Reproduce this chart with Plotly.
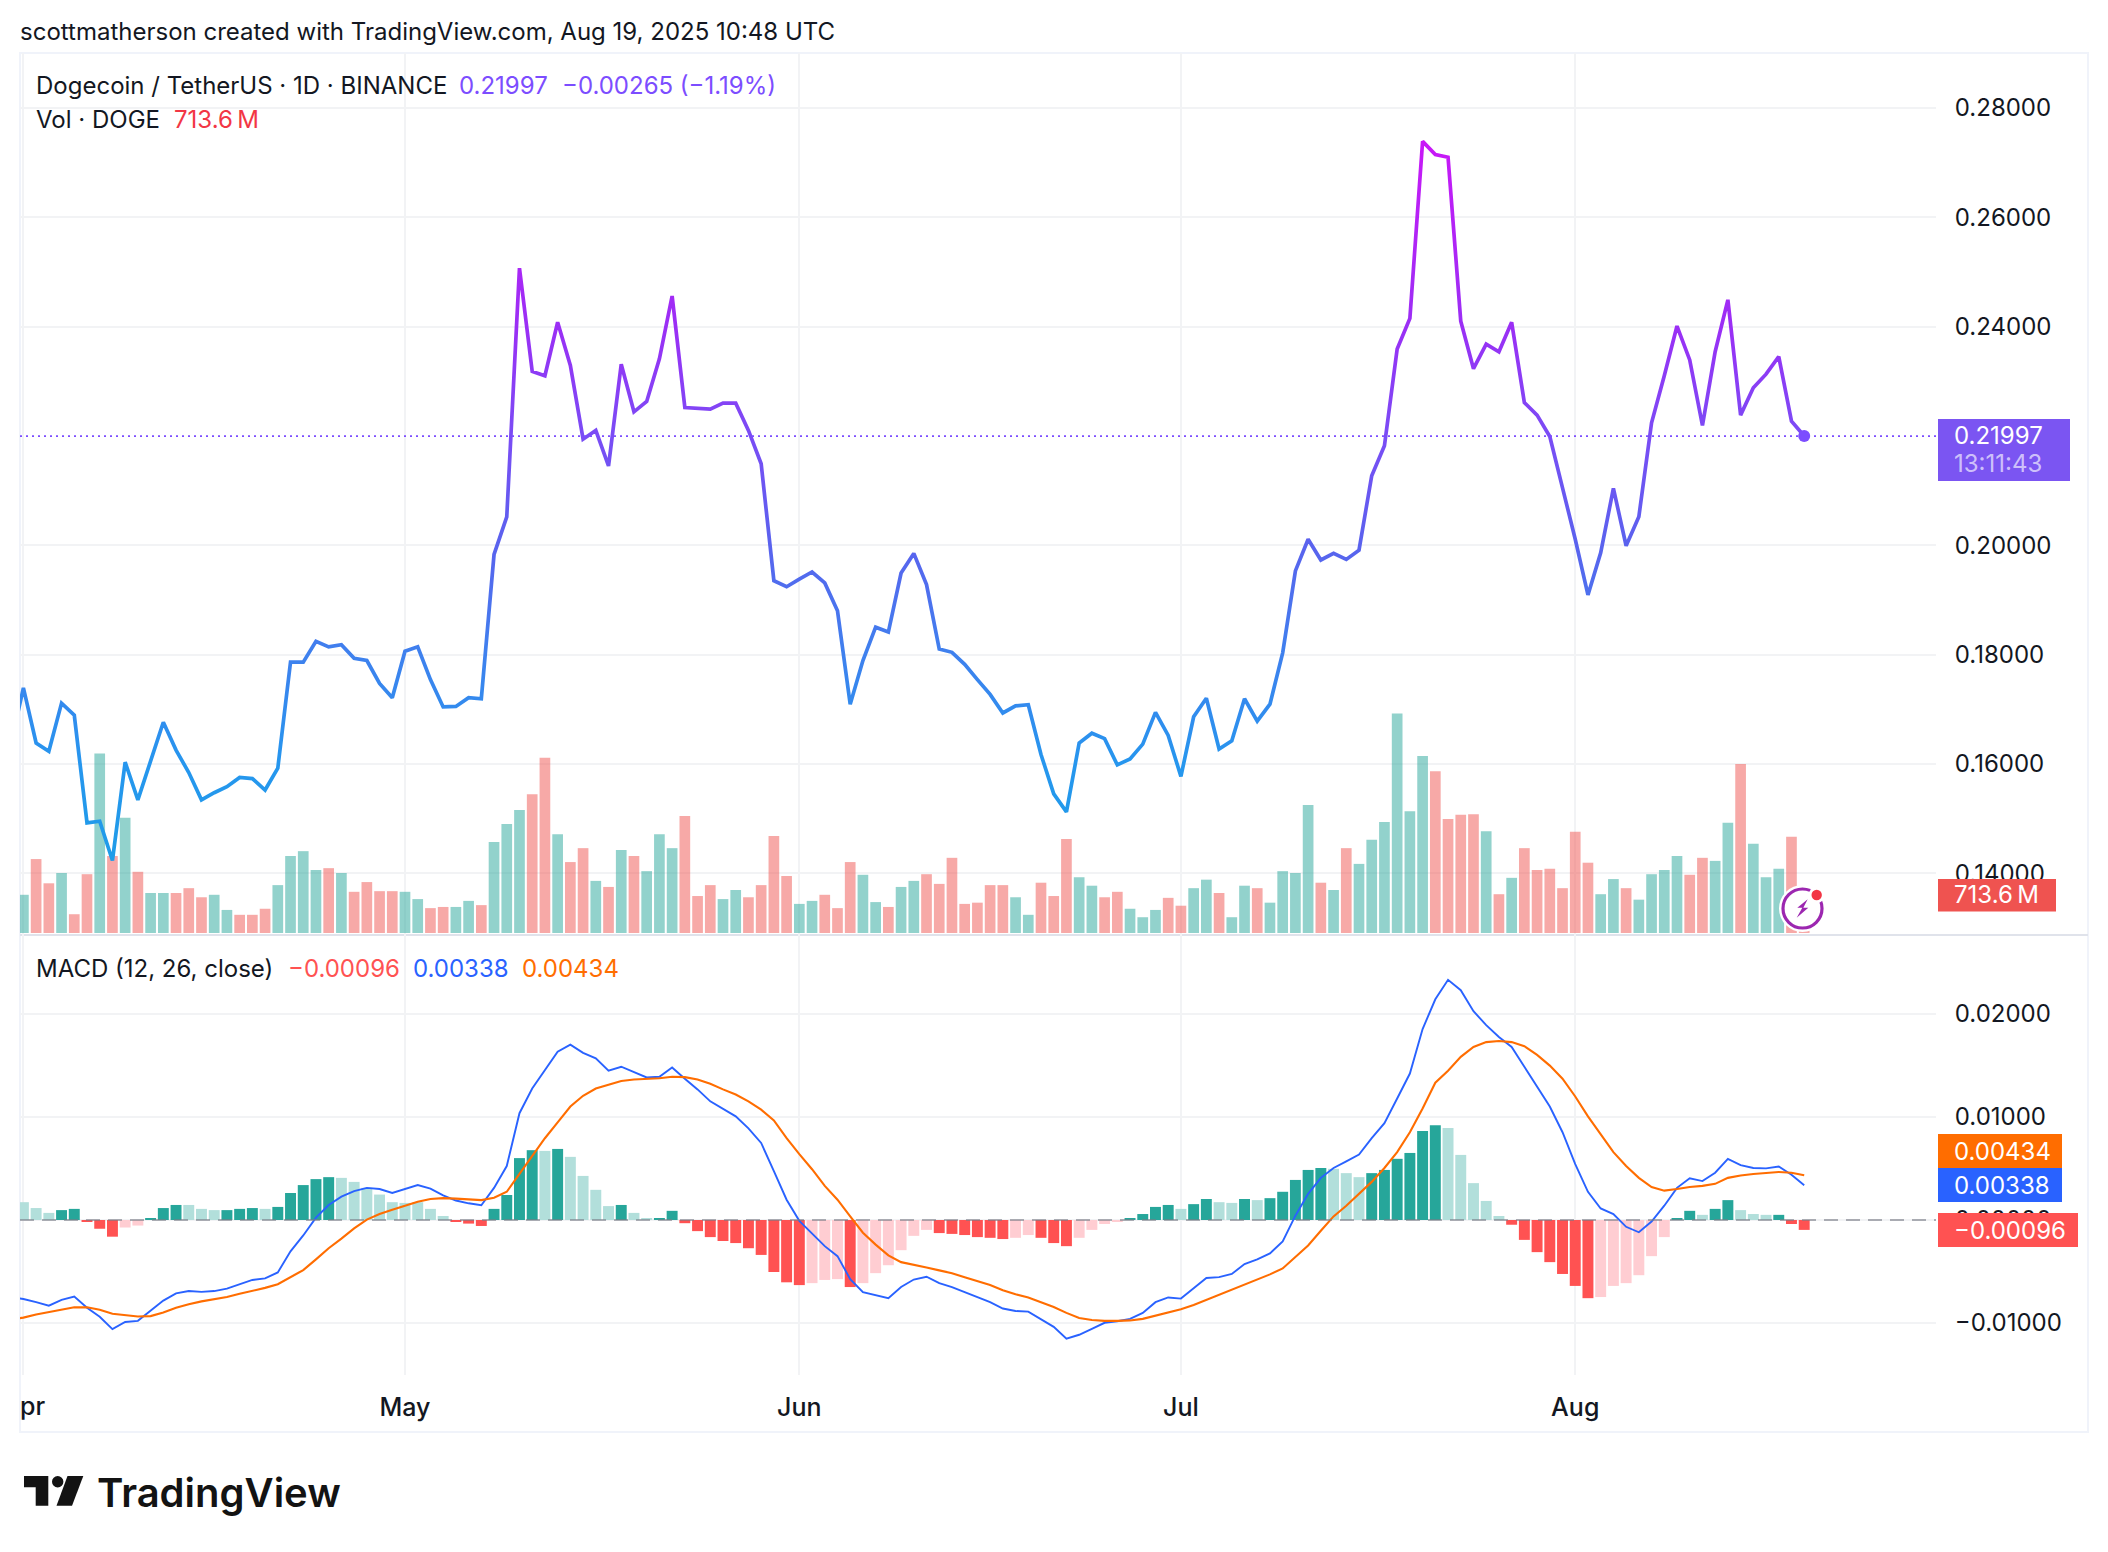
import pandas as pd
import plotly.graph_objects as go

W, H = 2108, 1552
START = "2025-03-31"

close = [0.1634,
 0.1739,0.1638,0.1623,0.1711,0.1689,0.1492,0.1495,0.1423,0.1603,0.1534,
 0.1603,0.1676,0.1625,0.1584,0.1534,0.1547,0.1558,0.1575,0.1573,0.1552,
 0.1592,0.1786,0.1786,0.1824,0.1814,0.1818,0.1793,0.1789,0.1747,0.1721,
 0.1806,0.1814,0.1754,0.1704,0.1705,0.1721,0.1719,0.1983,0.2052,0.2507,
 0.2318,0.2310,0.2408,0.2329,0.2194,0.2210,0.2145,0.2331,0.2244,0.2263,
 0.2341,0.2456,0.2252,0.2251,0.2249,0.2260,0.2260,0.2210,0.2149,0.1935,
 0.1924,0.1938,0.1951,0.1931,0.1880,0.1709,0.1789,0.1850,0.1841,0.1949,
 0.1985,0.1928,0.1810,0.1804,0.1782,0.1754,0.1727,0.1693,0.1706,0.1708,
 0.1617,0.1545,0.1512,0.1638,0.1656,0.1646,0.1598,0.1609,0.1636,0.1694,
 0.1652,0.1577,0.1686,0.1720,0.1627,0.1642,0.1719,0.1678,0.1709,0.1803,
 0.1953,0.2011,0.1973,0.1985,0.1974,0.1991,0.2127,0.2182,0.2359,0.2415,
 0.2739,0.2715,0.2710,0.2410,0.2323,0.2368,0.2354,0.2408,0.2261,0.2238,
 0.2199,0.2105,0.2011,0.1909,0.1986,0.2104,0.1999,0.2052,0.2224,0.2310,
 0.2401,0.2339,0.2219,0.2354,0.2449,0.2238,0.2288,0.2313,0.2345,0.2227,
 0.21997]

volume_m = [900,
 714,1382,929,1122,351,1099,3354,1439,2153,1144,
 748,748,748,838,668,714,431,340,340,453,
 895,1439,1530,1178,1212,1122,770,952,782,782,
 770,634,465,487,487,600,521,1700,2039,2300,
 2595,3274,1847,1326,1586,974,861,1552,1439,1156,
 1847,1586,2187,691,895,634,804,668,895,1813,
 1065,544,600,714,465,1326,1088,578,487,861,
 974,1099,918,1405,544,567,895,895,668,340,
 940,691,1756,1042,884,668,770,453,295,431,
 657,510,838,997,748,295,884,838,567,1156,
 1122,2391,940,804,1586,1292,1745,2073,4101,2277,
 3308,3025,2130,2209,2221,1903,725,1031,1586,1178,
 1201,838,1892,1314,725,1008,838,623,1099,1178,
 1439,1088,1405,1348,2062,3161,1666,1042,1201,1801,
 713.6]
volume_dir = ("r" "grrgrrgrgr" "ggrrrggrrr" "ggggrgrrrr" "ggrrggrggg" "rrgrrgrgrg"
              "ggrrrggrrr" "rggrrrggrg" "grrrrrrrgg" "rrrggrrggg" "rrggrggrgg"
              "ggrgrggggg" "grrrrgrgrr" "rrrrggrggg" "grrggrgggr" "r")

macd = [-0.00748,
 -0.00767,-0.00798,-0.00832,-0.00775,-0.00744,-0.00852,-0.00940,-0.01060,-0.00990,-0.00979,
 -0.00883,-0.00782,-0.00713,-0.00690,-0.00698,-0.00690,-0.00667,-0.00628,-0.00582,-0.00567,
 -0.00509,-0.00304,-0.00150,0.00023,0.00146,0.00227,0.00281,0.00312,0.00301,0.00262,
 0.00301,0.00339,0.00304,0.00239,0.00189,0.00162,0.00143,0.00312,0.00524,0.01037,
 0.01276,0.01449,0.01634,0.01703,0.01623,0.01569,0.01449,0.01488,0.01438,0.01384,
 0.01391,0.01480,0.01372,0.01268,0.01152,0.01075,0.01006,0.00890,0.00748,0.00474,
 0.00197,-0.00008,-0.00131,-0.00254,-0.00351,-0.00574,-0.00701,-0.00732,-0.00759,-0.00651,
 -0.00578,-0.00551,-0.00613,-0.00651,-0.00701,-0.00755,-0.00798,-0.00859,-0.00883,-0.00890,
 -0.00967,-0.01037,-0.01152,-0.01114,-0.01056,-0.00998,-0.00983,-0.00960,-0.00902,-0.00798,
 -0.00752,-0.00763,-0.00663,-0.00563,-0.00555,-0.00524,-0.00428,-0.00382,-0.00324,-0.00208,
 0.00042,0.00254,0.00409,0.00505,0.00570,0.00636,0.00794,0.00940,0.01179,0.01422,
 0.01854,0.02143,0.02332,0.02231,0.02027,0.01892,0.01777,0.01680,0.01488,0.01295,
 0.01102,0.00852,0.00543,0.00274,0.00112,0.00058,-0.00066,-0.00119,-0.00015,0.00139,
 0.00312,0.00405,0.00378,0.00459,0.00594,0.00532,0.00505,0.00501,0.00520,0.00439,
 0.00338]

signal = [-0.00967,
 -0.00948,-0.00917,-0.00894,-0.00867,-0.00848,-0.00848,-0.00871,-0.00910,-0.00925,-0.00937,
 -0.00933,-0.00898,-0.00852,-0.00817,-0.00790,-0.00767,-0.00748,-0.00717,-0.00690,-0.00659,
 -0.00624,-0.00555,-0.00486,-0.00382,-0.00274,-0.00181,-0.00081,0.00004,0.00058,0.00100,
 0.00139,0.00177,0.00204,0.00212,0.00208,0.00204,0.00193,0.00216,0.00274,0.00447,
 0.00620,0.00794,0.00948,0.01102,0.01206,0.01276,0.01314,0.01349,0.01364,0.01368,
 0.01376,0.01391,0.01387,0.01364,0.01322,0.01268,0.01218,0.01152,0.01071,0.00967,
 0.00794,0.00640,0.00493,0.00331,0.00197,0.00035,-0.00123,-0.00239,-0.00343,-0.00409,
 -0.00439,-0.00462,-0.00489,-0.00516,-0.00555,-0.00594,-0.00632,-0.00682,-0.00721,-0.00752,
 -0.00798,-0.00844,-0.00902,-0.00952,-0.00971,-0.00979,-0.00979,-0.00975,-0.00960,-0.00929,
 -0.00898,-0.00867,-0.00825,-0.00775,-0.00728,-0.00682,-0.00632,-0.00582,-0.00528,-0.00470,
 -0.00362,-0.00247,-0.00104,0.00035,0.00139,0.00254,0.00370,0.00505,0.00659,0.00852,
 0.01083,0.01333,0.01449,0.01584,0.01680,0.01727,0.01738,0.01727,0.01688,0.01603,
 0.01499,0.01372,0.01199,0.01006,0.00832,0.00659,0.00524,0.00409,0.00320,0.00285,
 0.00301,0.00320,0.00331,0.00351,0.00409,0.00432,0.00447,0.00459,0.00466,0.00459,
 0.00434]

histogram = [0.00219,
 0.00173,0.00116,0.00069,0.00096,0.00108,-0.00015,-0.00085,-0.00162,-0.00073,-0.00054,
 0.00019,0.00116,0.00146,0.00146,0.00108,0.00096,0.00096,0.00108,0.00116,0.00108,
 0.00127,0.00262,0.00339,0.00397,0.00416,0.00409,0.00370,0.00312,0.00247,0.00173,
 0.00166,0.00173,0.00108,0.00039,-0.00015,-0.00035,-0.00058,0.00108,0.00243,0.00601,
 0.00678,0.00671,0.00690,0.00613,0.00428,0.00293,0.00135,0.00146,0.00069,0.00019,
 0.00019,0.00089,-0.00031,-0.00108,-0.00166,-0.00204,-0.00224,-0.00274,-0.00339,-0.00505,
 -0.00605,-0.00632,-0.00613,-0.00582,-0.00574,-0.00651,-0.00613,-0.00516,-0.00439,-0.00293,
 -0.00154,-0.00096,-0.00127,-0.00135,-0.00146,-0.00166,-0.00173,-0.00185,-0.00173,-0.00146,
 -0.00173,-0.00224,-0.00254,-0.00173,-0.00096,-0.00039,-0.00019,0.00019,0.00058,0.00127,
 0.00146,0.00108,0.00154,0.00204,0.00173,0.00166,0.00204,0.00193,0.00212,0.00274,
 0.00389,0.00486,0.00505,0.00497,0.00455,0.00416,0.00455,0.00486,0.00594,0.00651,
 0.00863,0.00921,0.00894,0.00632,0.00358,0.00185,0.00039,-0.00046,-0.00193,-0.00312,
 -0.00409,-0.00524,-0.00640,-0.00759,-0.00748,-0.00640,-0.00613,-0.00536,-0.00351,-0.00166,
 0.00019,0.00089,0.00050,0.00108,0.00193,0.00096,0.00058,0.00050,0.00050,-0.00039,
 -0.00096]
histogram_state = ("D" "LLLDDRRRPP" "DDDLLLDDDL" "DDDDDLLLLL" "LLLLRRRDDD" "DLDLLLLDLL"
                   "DDRRRRRRRR" "RRPPPRPPPP" "PPRRRRRRPP" "RRRPPPPDDD" "DLDDLLDLDD"
                   "DDDLLLDDDD" "DDLLLLLRRR" "RRRRPPPPPP" "DDLDDLLLDR" "R")

price_ticks = [0.14, 0.16, 0.18, 0.20, 0.22, 0.24, 0.26, 0.28]
macd_ticks = [-0.01, 0.0, 0.01, 0.02]
month_ticks = ["2025-04-01", "2025-05-01", "2025-06-01", "2025-07-01", "2025-08-01"]
month_labels = ["", "May", "Jun", "Jul", "Aug"]

dates = pd.date_range(START, periods=len(close))

FONT = "Inter, 'Noto Sans', sans-serif"
INK = "#131722"
GRID = "#f2f3f5"
FRAME = "#f0f3fa"
PURPLE = "#7c4dff"
TXT = 24

def fx(px): return px / W
def fy(py): return 1 - py / H

def date_at(px):
    return pd.Timestamp("2025-04-01") + pd.Timedelta(days=(px - 23.4) / 12.72)

x_range = [date_at(20), date_at(1936)]
DAY_MS = 86400000

fig = go.Figure()

vol_colors = ["rgba(38,166,154,0.5)" if c == "g" else "rgba(239,83,80,0.5)" for c in volume_dir]
fig.add_trace(go.Bar(x=dates, y=volume_m, marker=dict(color=vol_colors, line_width=0),
                     width=0.84 * DAY_MS, xaxis="x", yaxis="y", name="Vol"))
fig.add_trace(go.Scatter(x=dates, y=close, mode="lines", line=dict(color=PURPLE, width=3.7, shape="linear"),
                         xaxis="x", yaxis="y2", name="Close"))
fig.add_trace(go.Scatter(x=[dates[-1]], y=[close[-1]], mode="markers",
                         marker=dict(color=PURPLE, size=12), xaxis="x", yaxis="y2", name="Last"))

state_colors = {"D": "#26a69a", "L": "#b2dfdb", "R": "#ff5252", "P": "#ffcdd2"}
fig.add_trace(go.Bar(x=dates, y=histogram, marker=dict(color=[state_colors[s] for s in histogram_state], line_width=0),
                     width=0.86 * DAY_MS, xaxis="x2", yaxis="y3", name="Histogram"))
fig.add_trace(go.Scatter(x=dates, y=macd, mode="lines", line=dict(color="#2962ff", width=1.9),
                         xaxis="x2", yaxis="y3", name="MACD"))
fig.add_trace(go.Scatter(x=dates, y=signal, mode="lines", line=dict(color="#ff6d00", width=2.1),
                         xaxis="x2", yaxis="y3", name="Signal"))

# axis scales derived from pixel positions of the panes
main_top, main_bottom = 53, 935
macd_top, macd_bottom = 935, 1375
p_per_px = 0.02 / 109.3
price_range = [0.28 - (main_bottom - 108) * p_per_px, 0.28 + (108 - main_top) * p_per_px]
m_per_px = 0.01 / 103.0
macd_range = [-(macd_bottom - 1220) * m_per_px, (1220 - macd_top) * m_per_px]
v_per_px = 1 / 0.0535
vol_range = [-(main_bottom - 933) * v_per_px, (933 - main_top) * v_per_px]

tick_font = dict(family=FONT, size=TXT, color=INK)
dom_x = [fx(20), fx(1936)]

shapes, annos = [], []

def rect(x0, y0, x1, y1, fill, line=None, lw=0, r=0):
    shapes.append(dict(type="rect", xref="paper", yref="paper", x0=fx(x0), x1=fx(x1), y0=fy(y1), y1=fy(y0),
                       fillcolor=fill, line=dict(color=line or fill, width=lw), layer="above"))

def text(x, y, s, size=TXT, color=INK, anchor="left", weight=None):
    f = dict(family=FONT, size=size, color=color)
    if weight:
        f["weight"] = weight
    annos.append(dict(xref="paper", yref="paper", x=fx(x), y=fy(y), text=s, showarrow=False,
                      xanchor=anchor, yanchor="middle", font=f, borderpad=0, borderwidth=0))

# frame and pane separator
shapes.append(dict(type="rect", xref="paper", yref="paper", x0=fx(20), x1=fx(2088), y0=fy(1432), y1=fy(main_top),
                   line=dict(color=FRAME, width=2), fillcolor="rgba(0,0,0,0)", layer="below"))
shapes.append(dict(type="line", xref="paper", yref="paper", x0=fx(20), x1=fx(2088), y0=fy(935), y1=fy(935),
                   line=dict(color="#e0e3eb", width=2), layer="below"))

# last price dotted line and MACD zero line, placed in data units
shapes.append(dict(type="line", xref="x", yref="y2", x0=x_range[0], x1=x_range[1], y0=close[-1], y1=close[-1],
                   line=dict(color=PURPLE, width=1.8, dash="2px,4px"), layer="above"))
shapes.append(dict(type="line", xref="x2", yref="y3", x0=x_range[0], x1=x_range[1], y0=0, y1=0,
                   line=dict(color="rgba(120,123,134,0.6)", width=2, dash="14px,8px"), layer="above"))

# axis value tags
rect(1938, 419, 2070, 481, "#7b55f2")
text(1954, 435, "0.21997", color="#ffffff")
text(1954, 463, "13:11:43", color="rgba(255,255,255,0.65)")
rect(1938, 879, 2056, 911.5, "#ef5350")
text(1954, 895, "713.6\u2009M", color="#ffffff")
rect(1938, 1134, 2062, 1168, "#ff6d00")
text(1954, 1151, "0.00434", color="#ffffff")
rect(1938, 1168, 2062, 1202, "#2962ff")
text(1954, 1185, "0.00338", color="#ffffff")
rect(1938, 1213, 2078, 1247, "#ff5252")
text(1954, 1230, "\u22120.00096", color="#ffffff")

# header and legends
text(20, 31, "scottmatherson created with TradingView.com, Aug 19, 2025 10:48 UTC")
text(36, 85, "Dogecoin / TetherUS \u00b7 1D \u00b7 BINANCE")
text(459, 85, "0.21997", color=PURPLE)
text(562, 85, "\u22120.00265 (\u22121.19%)", color=PURPLE)
text(36, 119.5, "Vol \u00b7 DOGE")
text(174, 119.5, "713.6\u2009M", color="#f23645")
text(36, 968, "MACD (12, 26, close)")
text(288, 968, "\u22120.00096", color="#ff5252")
text(413, 968, "0.00338", color="#2962ff")
text(522, 968, "0.00434", color="#ff6d00")
text(20, 1406, "pr", size=25, weight=500)

# flash icon
cx, cy = 1802.5, 908.5
def circle(cx, cy, r, fill, line="rgba(0,0,0,0)", lw=0):
    shapes.append(dict(type="circle", xref="paper", yref="paper", x0=fx(cx - r), x1=fx(cx + r),
                       y0=fy(cy + r), y1=fy(cy - r), fillcolor=fill, line=dict(color=line, width=lw), layer="above"))
def poly(points, fill):
    d = "M " + " L ".join(f"{fx(a):.6f},{fy(b):.6f}" for a, b in points) + " Z"
    shapes.append(dict(type="path", xref="paper", yref="paper", path=d, fillcolor=fill,
                       line=dict(color=fill, width=0), layer="above"))
circle(cx, cy, 23.5, "#ffffff")
circle(cx, cy, 19.5, "#ffffff", "#9c27b0", 3.2)
circle(1816.7, 895, 8, "#ffffff")
circle(1816.7, 895, 5.2, "#f23645")
poly([(1807.7, 899.3), (1797.3, 907.7), (1802.3, 907.7), (1796.7, 917.7), (1808.3, 907.7), (1803.3, 907.7)], "#9c27b0")

# logo
poly([(24, 1476), (48.3, 1476), (48.3, 1505.7), (35.7, 1505.7), (35.7, 1487.3), (24, 1487.3)], "#131313")
circle(57.7, 1481.7, 5.7, "#131313")
poly([(67.5, 1476), (83.3, 1476), (72, 1505.7), (56.5, 1505.7)], "#131313")
text(97, 1492, "TradingView", size=40, color="#131313", weight=600)

fig.update_layout(
    width=W, height=H, margin=dict(l=0, r=0, t=0, b=0), autosize=False,
    paper_bgcolor="#ffffff", plot_bgcolor="rgba(0,0,0,0)", showlegend=False, barmode="overlay", hovermode=False,
    xaxis=dict(domain=dom_x, type="date", range=x_range, anchor="y", showticklabels=False, ticks="",
               tickmode="array", tickvals=month_ticks, showgrid=True, gridcolor=GRID, gridwidth=1.5, zeroline=False,
               showline=False),
    yaxis=dict(domain=[fy(main_bottom), fy(main_top)], range=vol_range, showgrid=False, showticklabels=False,
               ticks="", zeroline=False, showline=False),
    yaxis2=dict(domain=[fy(main_bottom), fy(main_top)], range=price_range, overlaying="y", side="right", anchor="x",
                tickmode="array", tickvals=[t for t in price_ticks if t != 0.22],
                ticktext=[f"{t:.5f}" for t in price_ticks if t != 0.22], tickfont=tick_font, ticks="outside",
                ticklen=13, tickcolor="rgba(0,0,0,0)", showgrid=True, gridcolor=GRID, gridwidth=1.5, zeroline=False,
                showline=False),
    xaxis2=dict(domain=dom_x, type="date", range=x_range, anchor="y3", tickmode="array", tickvals=month_ticks,
                ticktext=month_labels, tickfont=dict(family=FONT, size=25, color=INK, weight=500), ticks="outside",
                ticklen=10, tickcolor="rgba(0,0,0,0)", showgrid=True, gridcolor=GRID, gridwidth=1.5, zeroline=False,
                showline=False),
    yaxis3=dict(domain=[fy(macd_bottom), fy(macd_top)], range=macd_range, side="right", anchor="x2",
                tickmode="array", tickvals=macd_ticks,
                ticktext=[f"{t:.5f}".replace("-", "\u2212") for t in macd_ticks], tickfont=tick_font, ticks="outside",
                ticklen=13, tickcolor="rgba(0,0,0,0)", showgrid=True, gridcolor=GRID, gridwidth=1.5, zeroline=False,
                showline=False),
    shapes=shapes, annotations=annos,
)

gradient_js = """
(function(){
  document.body.style.margin='0';
  var gd=document.getElementById('{plot_id}');
  var NS='http://www.w3.org/2000/svg';
  var svg=gd.querySelector('svg.main-svg');
  var defs=svg.querySelector('defs');
  var g=document.createElementNS(NS,'linearGradient');
  g.setAttribute('id','priceGradient');
  g.setAttribute('x1','0');g.setAttribute('y1','0');g.setAttribute('x2','0');g.setAttribute('y2','1');
  [[0,'#c918f7'],[0.26,'#9a2ff5'],[0.41,'#7a4cf5'],[0.56,'#5a62ee'],[0.71,'#3f80ee'],[0.865,'#2696ee'],[1,'#1f9ce8']].forEach(function(s){
    var st=document.createElementNS(NS,'stop');
    st.setAttribute('offset',s[0]);st.setAttribute('stop-color',s[1]);g.appendChild(st);
  });
  defs.appendChild(g);
  var line=gd.querySelector('.xy2 .scatterlayer .js-line');
  if(line){line.style.stroke='url(#priceGradient)';}
})();
"""
fig.write_html("out.html", post_script=gradient_js, config={"displayModeBar": False})
